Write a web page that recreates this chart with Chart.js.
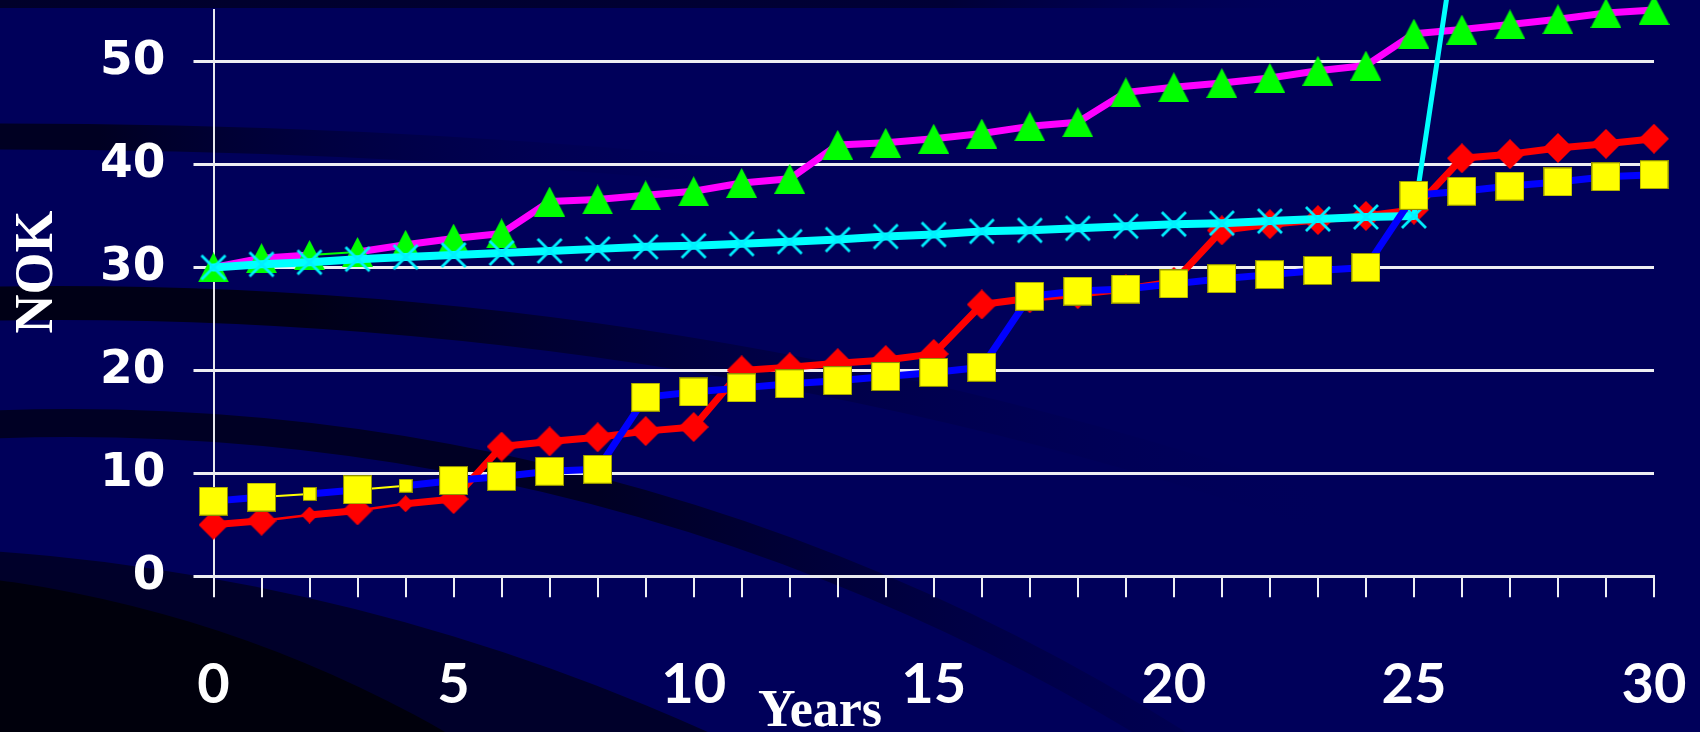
<!DOCTYPE html>
<html>
<head>
<meta charset="utf-8">
<script src="https://cdn.jsdelivr.net/npm/chart.js@4.4.0/dist/chart.umd.min.js"></script>
<style>
html,body{margin:0;padding:0;background:#00005A;overflow:hidden;}
canvas{display:block;}
</style>
</head>
<body>
<canvas id="c" width="1700" height="732"></canvas>
<script>
// ---------------- data ----------------
const years = ['0','1','2','3','4','5','6','7','8','9','10','11','12','13','14','15','16','17','18','19','20','21','22','23','24','25','26','27','28','29','30'];
const blueYellow = [7.3, 7.7, 8.0, 8.4, 8.8, 9.3, 9.7, 10.2, 10.4, 17.4, 17.9, 18.3, 18.7, 19.0, 19.4, 19.8, 20.3, 27.2, 27.7, 27.9, 28.4, 28.9, 29.3, 29.7, 30.0, 37.0, 37.4, 37.9, 38.3, 38.8, 39.0];
const redDiamond = [5.0, 5.4, 5.95, 6.4, 7.05, 7.5, 12.6, 13.1, 13.5, 14.1, 14.5, 20.0, 20.3, 20.7, 21.0, 21.6, 26.4, 27.0, 27.4, 27.9, 28.6, 33.6, 34.2, 34.6, 35.0, 35.6, 40.6, 41.0, 41.6, 42.0, 42.5];
const magentaTriangle = [30.0, 30.9, 31.2, 31.5, 32.2, 32.8, 33.3, 36.4, 36.6, 37.0, 37.4, 38.2, 38.6, 41.9, 42.1, 42.5, 43.0, 43.7, 44.1, 47.0, 47.5, 47.9, 48.4, 49.1, 49.6, 52.7, 53.1, 53.6, 54.1, 54.7, 55.0];
const cyanCross = [30.0, 30.3, 30.5, 30.8, 31.0, 31.2, 31.4, 31.6, 31.8, 32.0, 32.1, 32.3, 32.5, 32.7, 33.0, 33.2, 33.5, 33.6, 33.8, 34.0, 34.2, 34.3, 34.5, 34.7, 34.9, 35.0, 66.0, null, null, null, null];
const xTickLabels = ['0','5','10','15','20','25','30'];
const yTickLabels = ['0','10','20','30','40','50'];
const xTitle = 'Years';
const yTitle = 'NOK';

// ---------------- styling ----------------
const thinYellowSegs = [1, 3];
const thinRedSegs = [1, 3];
const thinGreenSegs = [2];
const smallPts = [2, 4];

function mk(w, h, draw) {
  const c = document.createElement('canvas');
  c.width = w; c.height = h;
  draw(c.getContext('2d'), w, h);
  return c;
}
function square(s) {
  return mk(s, s, (g, w, h) => {
    g.fillStyle = '#FFFF00'; g.fillRect(0, 0, w, h);
    g.strokeStyle = '#8E8E00'; g.lineWidth = 1; g.strokeRect(0.5, 0.5, w - 1, h - 1);
  });
}
function diamond(s) {
  return mk(s, s, (g, w, h) => {
    g.fillStyle = '#FF0000'; g.beginPath();
    g.moveTo(w / 2, 0); g.lineTo(w, h / 2); g.lineTo(w / 2, h); g.lineTo(0, h / 2); g.closePath(); g.fill();
  });
}
const sqBig = square(29), sqSmall = square(14);
const diaBig = diamond(30), diaSmall = diamond(17);
const tri = mk(31, 30, (g, w, h) => {
  g.fillStyle = '#00FF00'; g.beginPath();
  g.moveTo(w / 2, 0); g.lineTo(w, h); g.lineTo(0, h); g.closePath(); g.fill();
});
const cross = mk(28, 28, (g, w, h) => {
  g.strokeStyle = '#00F0FF'; g.lineWidth = 2.8; g.lineCap = 'butt';
  g.beginPath(); g.moveTo(2, 2); g.lineTo(w - 2, h - 2); g.moveTo(w - 2, 2); g.lineTo(2, h - 2); g.stroke();
});

const bgPlugin = {
  id: 'bg',
  beforeDraw(chart) {
    const g = chart.ctx, W = chart.width, H = chart.height;
    g.save();
    g.fillStyle = '#00005A'; g.fillRect(0, 0, W, H);
    let gr = g.createLinearGradient(0, 0, 1350, 0);
    gr.addColorStop(0, '#00002A'); gr.addColorStop(0.7, '#000036'); gr.addColorStop(1, 'rgba(0,0,90,0)');
    g.fillStyle = gr; g.fillRect(0, 0, W, 8);
    function band(cx, cy, r, w, col, x0, x1) {
      const lg = g.createLinearGradient(x0, 0, x1, 0);
      lg.addColorStop(0, col); lg.addColorStop(1, 'rgba(0,0,90,0)');
      g.strokeStyle = lg; g.lineWidth = w;
      g.beginPath(); g.arc(cx, cy, r, Math.PI, 2 * Math.PI); g.stroke();
    }
    band(0, 7808, 7671.5, 26, '#000022', 100, 800);
    band(58, 4210, 3907, 34, '#000016', 300, 1350);
    band(69.5, 2500, 2076.9, 28, '#000024', 600, 1600);
    g.fillStyle = '#00002A';
    g.beginPath(); g.arc(-155, 2640, 2094, 0, 2 * Math.PI); g.fill();
    g.fillStyle = '#00000C';
    g.beginPath(); g.arc(-167, 1800, 1231, 0, 2 * Math.PI); g.fill();
    g.restore();
  },
  afterDraw(chart) {
    const g = chart.ctx;
    g.save();
    g.fillStyle = '#FFFFFF';
    g.font = 'bold 52px "Liberation Serif", "DejaVu Serif", serif';
    g.textAlign = 'center'; g.textBaseline = 'alphabetic';
    g.fillText(xTitle, 820, 726);
    g.translate(52, 272);
    g.rotate(-Math.PI / 2);
    g.font = 'bold 54px "Liberation Serif", "DejaVu Serif", serif';
    g.fillText(yTitle, 0, 0);
    g.restore();
  }
};

const common = { tension: 0, clip: false, spanGaps: false, pointRadius: 10, pointHoverRadius: 10, pointBorderWidth: 0, borderJoinStyle: 'round', borderCapStyle: 'round' };

new Chart(document.getElementById('c'), {
  type: 'line',
  data: {
    labels: years,
    datasets: [
      Object.assign({}, common, {
        label: 'A', data: blueYellow, borderColor: '#0000FF', borderWidth: 7,
        pointStyle: ctx => smallPts.includes(ctx.dataIndex) ? sqSmall : sqBig,
        segment: {
          borderColor: c => thinYellowSegs.includes(c.p0DataIndex) ? '#FFFF00' : '#0000FF',
          borderWidth: c => thinYellowSegs.includes(c.p0DataIndex) ? 2 : 7
        }
      }),
      Object.assign({}, common, {
        label: 'D', data: cyanCross, borderColor: '#00FFFF', borderWidth: 8,
        pointStyle: cross,
        segment: {
          borderWidth: c => c.p0DataIndex >= 25 ? 5 : 8
        }
      }),
      Object.assign({}, common, {
        label: 'B', data: redDiamond, borderColor: '#FF0000', borderWidth: 7,
        pointStyle: ctx => smallPts.includes(ctx.dataIndex) ? diaSmall : diaBig,
        segment: {
          borderWidth: c => thinRedSegs.includes(c.p0DataIndex) ? 2.5 : 7
        }
      }),
      Object.assign({}, common, {
        label: 'C', data: magentaTriangle, borderColor: '#FF00FF', borderWidth: 7,
        pointStyle: tri,
        segment: {
          borderColor: c => thinGreenSegs.includes(c.p0DataIndex) ? '#00FF00' : '#FF00FF',
          borderWidth: c => thinGreenSegs.includes(c.p0DataIndex) ? 2 : 7
        }
      })
    ]
  },
  options: {
    responsive: false,
    devicePixelRatio: 1,
    animation: false,
    events: [],
    layout: { padding: { top: 8, right: 46, left: 0, bottom: 0 } },
    plugins: { legend: { display: false }, tooltip: { enabled: false } },
    scales: {
      x: {
        type: 'category',
        offset: false,
        grid: { drawOnChartArea: false, drawTicks: true, tickLength: 21, color: '#F0F0F4', lineWidth: 2 },
        border: { display: true, color: '#E8E8EE', width: 3 },
        ticks: {
          autoSkip: false, maxRotation: 0, minRotation: 0, color: '#FFFFFF', padding: 54,
          font: { family: 'Lato, "DejaVu Sans", sans-serif', weight: 'bold', size: 56 },
          callback: function (v) { const l = this.getLabelForValue(v); return xTickLabels.includes(l) ? l : ''; }
        },
        afterFit: s => { s.height = 155.7; s.paddingLeft = 0; s.paddingRight = 0; }
      },
      y: {
        min: 0, max: 55,
        afterBuildTicks: s => { s.ticks = s.ticks.filter(t => yTickLabels.includes(String(t.value))); },
        grid: { color: '#EEEEF2', lineWidth: 3, tickLength: 20, drawTicks: true },
        border: { display: true, color: '#E8E8EE', width: 2 },
        ticks: {
          stepSize: 10, color: '#FFFFFF', padding: 28,
          font: { family: '"DejaVu Sans", sans-serif', weight: 'bold', size: 47 }
        },
        afterFit: s => { s.width = 213.5; s.paddingTop = 0; s.paddingBottom = 0; }
      }
    }
  },
  plugins: [bgPlugin]
});
</script>
</body>
</html>
